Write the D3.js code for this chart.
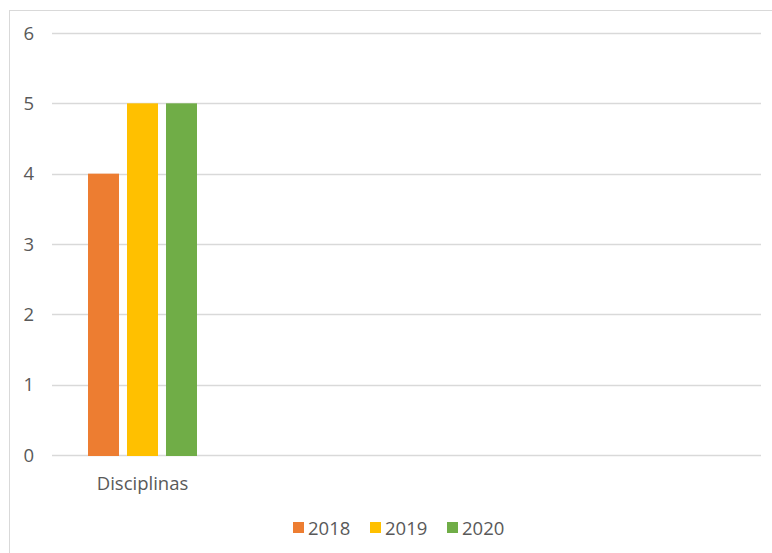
<!DOCTYPE html>
<html>
<head>
<meta charset="utf-8">
<script src="https://cdn.jsdelivr.net/npm/d3@7"></script>
<style>
  html, body { margin: 0; padding: 0; background: #fff; }
  svg { display: block; }
</style>
</head>
<body>
<svg id="chart" width="772" height="553"></svg>
<script>
const categories = ["Disciplinas", "", "", ""];
const seriesNames = ["2018", "2019", "2020"];
const values2018 = [4, null, null, null];
const values2019 = [5, null, null, null];
const values2020 = [5, null, null, null];
const yTicks = [0, 1, 2, 3, 4, 5, 6];
const colors = ["#ED7D31", "#FFC000", "#70AD47"];

const series = [values2018, values2019, values2020];
const svg = d3.select("#chart");
const font = "'Open Sans', sans-serif";
const textColor = "#595959";

// chart area border
svg.append("rect")
  .attr("x", 9.5).attr("y", 10.5)
  .attr("width", 800).attr("height", 600)
  .attr("fill", "#fff").attr("stroke", "#D9D9D9").attr("stroke-width", 1);

const plotLeft = 52, plotRight = 761, plotTop = 33, plotBottom = 455;

const y = d3.scaleLinear().domain([0, 6]).range([plotBottom, plotTop]);
const x = d3.scaleBand().domain(d3.range(categories.length)).range([plotLeft, 776]).padding(0);
const groupWidth = 109;
const inner = d3.scaleBand().domain(seriesNames).range([0, groupWidth]).paddingInner(0.205).paddingOuter(0);

// gridlines
svg.append("g")
  .selectAll("line").data(yTicks).join("line")
  .attr("x1", plotLeft).attr("x2", plotRight)
  .attr("y1", d => Math.round(y(d)) + 0.5).attr("y2", d => Math.round(y(d)) + 0.5)
  .attr("stroke", "#D9D9D9").attr("stroke-width", 1.5);

// y tick labels
svg.append("g")
  .selectAll("text").data(yTicks).join("text")
  .attr("x", 34).attr("y", d => y(d))
  .attr("dy", "0.36em")
  .attr("text-anchor", "end")
  .attr("font-family", font).attr("font-size", 18.5)
  .attr("fill", textColor)
  .text(d => d);

// bars
const groupOffset = (x.bandwidth() - groupWidth) / 2;
series.forEach((vals, si) => {
  svg.append("g")
    .selectAll("rect")
    .data(vals.map((v, i) => ({ v, i })).filter(d => d.v != null))
    .join("rect")
    .attr("x", d => x(d.i) + groupOffset + inner(seriesNames[si]))
    .attr("width", inner.bandwidth())
    .attr("y", d => y(d.v))
    .attr("height", d => y(0) - y(d.v) + 1)
    .attr("fill", colors[si]);
});

// category labels
svg.append("g")
  .selectAll("text").data(categories.map((c, i) => ({ c, i })).filter(d => d.c))
  .join("text")
  .attr("x", d => x(d.i) + x.bandwidth() / 2)
  .attr("y", 490)
  .attr("text-anchor", "middle")
  .attr("font-family", font).attr("font-size", 18.5)
  .attr("fill", textColor)
  .text(d => d.c);

// legend
const legendX = [293, 370, 447];
const lg = svg.append("g");
seriesNames.forEach((name, i) => {
  lg.append("rect")
    .attr("x", legendX[i]).attr("y", 522)
    .attr("width", 11).attr("height", 11)
    .attr("fill", colors[i]);
  lg.append("text")
    .attr("x", legendX[i] + 15).attr("y", 535)
    .attr("font-family", font).attr("font-size", 18.5)
    .attr("fill", textColor)
    .text(name);
});
</script>
</body>
</html>
